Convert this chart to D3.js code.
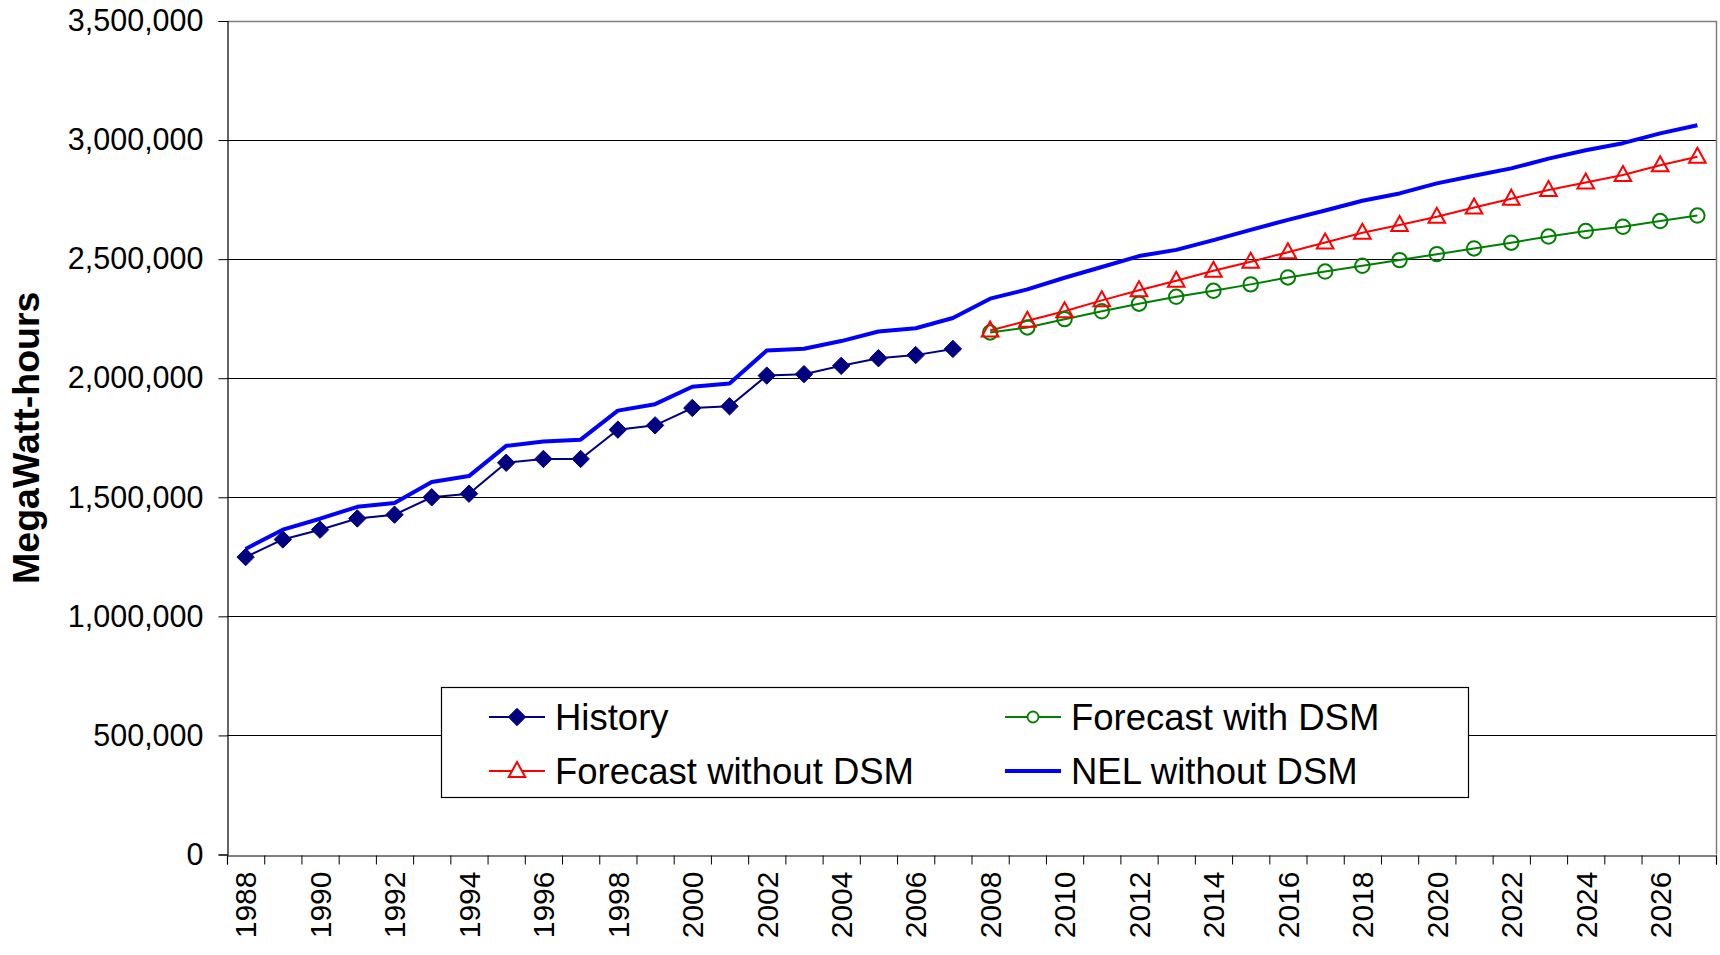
<!DOCTYPE html>
<html>
<head>
<meta charset="utf-8">
<script src="https://cdn.jsdelivr.net/npm/d3@7"></script>
<style>
  html, body { margin: 0; padding: 0; background: #fff; }
  svg { display: block; font-family: "Liberation Sans", Arial, sans-serif; }
</style>
</head>
<body>
<svg id="chart" width="1720" height="955"></svg>
<script>
// Net energy for load, annual MWh
const years = [1988, 1989, 1990, 1991, 1992, 1993, 1994, 1995, 1996, 1997,
               1998, 1999, 2000, 2001, 2002, 2003, 2004, 2005, 2006, 2007,
               2008, 2009, 2010, 2011, 2012, 2013, 2014, 2015, 2016, 2017,
               2018, 2019, 2020, 2021, 2022, 2023, 2024, 2025, 2026, 2027];

const historyYears = years.slice(0, 20);
const forecastYears = years.slice(20);

const history = [1249000, 1323000, 1364000, 1411000, 1427000, 1500000, 1515000, 1645000, 1661000, 1661000,
                 1784000, 1802000, 1875000, 1882000, 2011000, 2017000, 2052000, 2084000, 2097000, 2123000];

const forecastWithDSM = [2192000, 2213000, 2248000, 2281000, 2313000, 2342000, 2367000, 2394000, 2423000, 2448000,
                         2472000, 2496000, 2521000, 2545000, 2569000, 2595000, 2618000, 2636000, 2660000, 2683000];

const forecastWithoutDSM = [2200000, 2241000, 2281000, 2327000, 2369000, 2409000, 2451000, 2489000, 2529000, 2570000,
                            2611000, 2643000, 2678000, 2717000, 2754000, 2790000, 2822000, 2853000, 2894000, 2930000];

const nelWithoutDSM = [1283000, 1364000, 1410000, 1460000, 1476000, 1564000, 1589000, 1716000, 1734000, 1742000,
                       1864000, 1891000, 1964000, 1978000, 2116000, 2124000, 2156000, 2196000, 2210000, 2253000,
                       2334000, 2373000, 2422000, 2467000, 2513000, 2539000, 2580000, 2623000, 2665000, 2704000,
                       2745000, 2776000, 2818000, 2850000, 2881000, 2922000, 2957000, 2987000, 3028000, 3062000];

const yTicks = [0, 500000, 1000000, 1500000, 2000000, 2500000, 3000000, 3500000];
const xLabelYears = years.filter(y => y % 2 === 0);

const yTitle = "MegaWatt-hours";
const legendItems = [
  { name: "History", color: "#000080", marker: "diamond", width: 2 },
  { name: "Forecast with DSM", color: "#008000", marker: "circle", width: 2 },
  { name: "Forecast without DSM", color: "#FF0000", marker: "triangle", width: 2 },
  { name: "NEL without DSM", color: "#0000FF", marker: null, width: 4 }
];

// ---- layout ----
const plot = { left: 227, right: 1716, top: 21, bottom: 854.5 };
const svg = d3.select("#chart");

const x = d3.scaleBand().domain(years).range([plot.left, plot.right]).paddingInner(0).paddingOuter(0);
const cx = yr => x(yr) + x.bandwidth() / 2;
const y = d3.scaleLinear().domain([0, 3500000]).range([plot.bottom, plot.top]);

// horizontal gridlines
svg.append("g")
  .selectAll("line")
  .data(yTicks.filter(d => d > 0 && d < 3500000))
  .join("line")
  .attr("x1", plot.left).attr("x2", plot.right)
  .attr("y1", d => Math.round(y(d)) + 0.5).attr("y2", d => Math.round(y(d)) + 0.5)
  .attr("stroke", "#000").attr("stroke-width", 1);

// plot-area border (top and right)
svg.append("path")
  .attr("d", `M${plot.left},${Math.round(plot.top) + 0.5}H${plot.right + 0.5}V${plot.bottom}`)
  .attr("fill", "none").attr("stroke", "#808080").attr("stroke-width", 1.5);

// y axis
const yAxis = svg.append("g")
  .attr("transform", `translate(${plot.left + 0.5},0)`)
  .call(d3.axisLeft(y).tickValues(yTicks).tickFormat(d3.format(",")).tickSize(9).tickPadding(15));
yAxis.select(".domain").attr("stroke", "#000").attr("stroke-width", 1.2);
yAxis.selectAll(".tick line").attr("stroke", "#000");
yAxis.selectAll(".tick text")
  .attr("font-size", 30.5).attr("fill", "#000")
  .attr("font-family", "'Liberation Sans', Arial, sans-serif");

// x axis: tick marks on category boundaries
const edge = d3.scaleLinear().domain([0, years.length]).range([plot.left, plot.right]);
const xTicks = svg.append("g")
  .attr("transform", `translate(0,${Math.round(plot.bottom) + 0.5})`)
  .call(d3.axisBottom(edge).tickValues(d3.range(0, years.length + 1)).tickFormat("").tickSize(9));
xTicks.select(".domain").attr("stroke", "#000").attr("stroke-width", 1.2);
xTicks.selectAll(".tick line").attr("stroke", "#000");

// x axis labels, every other year, rotated
const xLab = svg.append("g")
  .attr("transform", `translate(0,${plot.bottom})`)
  .call(d3.axisBottom(x).tickValues(xLabelYears).tickSize(0).tickPadding(0));
xLab.select(".domain").remove();
xLab.selectAll(".tick text")
  .attr("font-size", 30).attr("fill", "#000")
  .attr("font-family", "'Liberation Sans', Arial, sans-serif")
  .attr("transform", "rotate(-90)")
  .attr("text-anchor", "end")
  .attr("dy", "0.36em")
  .attr("x", -17)
  .attr("y", 0);

// y axis title
svg.append("text")
  .attr("transform", `translate(39,${(plot.top + plot.bottom) / 2}) rotate(-90)`)
  .attr("text-anchor", "middle")
  .attr("font-size", 37.5).attr("font-weight", "bold")
  .text(yTitle);

// ---- series ----
const line = d3.line().x(d => cx(d.year)).y(d => y(d.value));
const zip = (ys, vs) => ys.map((yr, i) => ({ year: yr, value: vs[i] }));

const nelData = zip(years, nelWithoutDSM);
const histData = zip(historyYears, history);
const withData = zip(forecastYears, forecastWithDSM);
const withoutData = zip(forecastYears, forecastWithoutDSM);

svg.append("path").datum(nelData).attr("d", line)
  .attr("fill", "none").attr("stroke", "#0000FF").attr("stroke-width", 4).attr("stroke-linejoin", "round");

svg.append("path").datum(histData).attr("d", line)
  .attr("fill", "none").attr("stroke", "#000080").attr("stroke-width", 2);

svg.append("path").datum(withData).attr("d", line)
  .attr("fill", "none").attr("stroke", "#008000").attr("stroke-width", 2);

svg.append("path").datum(withoutData).attr("d", line)
  .attr("fill", "none").attr("stroke", "#FF0000").attr("stroke-width", 2);

// marker shapes
function markerPath(kind) {
  if (kind === "diamond") { const r = 8.7; return `M0,${-r}L${r},0L0,${r}L${-r},0Z`; }
  if (kind === "triangle") { const w = 8.3, h = 15; return `M0,${-h * 0.6}L${w},${h * 0.4}L${-w},${h * 0.4}Z`; }
  return null;
}

svg.append("g").selectAll("path").data(histData).join("path")
  .attr("transform", d => `translate(${cx(d.year)},${y(d.value)})`)
  .attr("d", markerPath("diamond"))
  .attr("fill", "#000080").attr("stroke", "#000080").attr("stroke-width", 1);

svg.append("g").selectAll("circle").data(withData).join("circle")
  .attr("cx", d => cx(d.year)).attr("cy", d => y(d.value)).attr("r", 7.2)
  .attr("fill", "none").attr("stroke", "#008000").attr("stroke-width", 2);

svg.append("g").selectAll("path").data(withoutData).join("path")
  .attr("transform", d => `translate(${cx(d.year)},${y(d.value)})`)
  .attr("d", markerPath("triangle"))
  .attr("fill", "none").attr("stroke", "#FF0000").attr("stroke-width", 2);

// ---- legend ----
const lg = svg.append("g");
lg.append("rect")
  .attr("x", 441.5).attr("y", 687.5).attr("width", 1027).attr("height", 110)
  .attr("fill", "#fff").attr("stroke", "#000").attr("stroke-width", 1.2);

const cols = [489, 1005];
const rows = [717, 771];
legendItems.forEach((it, i) => {
  const gx = cols[i % 2], gy = rows[Math.floor(i / 2)];
  const g = lg.append("g").attr("transform", `translate(${gx},${gy})`);
  g.append("line").attr("x1", 0).attr("x2", 56).attr("y1", 0).attr("y2", 0)
    .attr("stroke", it.color).attr("stroke-width", it.width);
  if (it.marker === "circle") {
    g.append("circle").attr("cx", 28).attr("cy", 0).attr("r", 5.5)
      .attr("fill", "#fff").attr("stroke", it.color).attr("stroke-width", 1.8);
  } else if (it.marker) {
    g.append("path").attr("transform", "translate(28,0)")
      .attr("d", markerPath(it.marker))
      .attr("fill", it.marker === "diamond" ? it.color : "#fff")
      .attr("stroke", it.color).attr("stroke-width", it.marker === "diamond" ? 1 : 2);
  }
  g.append("text").attr("x", 66).attr("y", 0).attr("dy", "0.36em")
    .attr("font-size", 36.5).attr("fill", "#000")
    .text(it.name);
});
</script>
</body>
</html>
